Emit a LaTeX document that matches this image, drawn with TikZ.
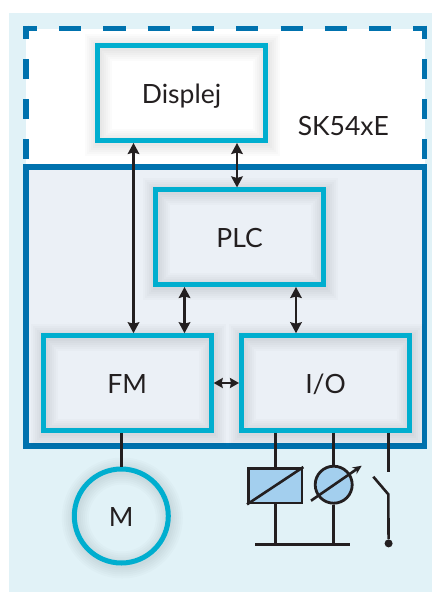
\documentclass[tikz,border=0pt]{standalone}
\usepackage{fontspec}
\setmainfont{Lato}
\usetikzlibrary{arrows.meta,shapes.geometric,positioning}
\definecolor{panelbg}{HTML}{E1F2F7}
\definecolor{boxcyan}{HTML}{00AECF}
\definecolor{unitblue}{HTML}{0072AE}
\definecolor{unitfill}{HTML}{EBF0F6}
\definecolor{symfill}{HTML}{A3CFEE}
\definecolor{inkline}{HTML}{231F20}
\begin{document}
\begin{tikzpicture}[x=1pt,y=-1pt,
    softline/.style={preaction={draw=black,draw opacity=.016,line width=#1,transform canvas={xshift=1pt,yshift=-2pt}}},
    softglow/.style={softline=7pt,softline=11pt,softline=15pt,softline=19pt,softline=23pt,softline=27pt},
    caption/.style={font=\fontsize{26.5}{26.5}\selectfont,text=inkline,text height=20pt,text depth=0pt},
    block/.style={draw=boxcyan,line width=5pt,softglow,minimum width=168pt,minimum height=94.5pt,caption},
    motor/.style={circle,draw=boxcyan,line width=5pt,softglow,minimum size=94pt,inner sep=0pt,caption},
    wire/.style={draw=inkline,line width=2.6pt},
    biarrow/.style={wire,{Stealth[length=11pt,width=11.5pt,inset=1.5pt]}-{Stealth[length=11pt,width=11.5pt,inset=1.5pt]}},
    shortarrow/.style={wire,{Stealth[length=9pt,width=10pt,inset=1pt]}-{Stealth[length=9pt,width=10pt,inset=1pt]}},
    dashtop/.style={draw=unitblue,line width=5.2pt,dash pattern=on 22.2pt off 22.1pt,dash phase=8.7pt},
    dashside/.style={draw=unitblue,line width=5.2pt,dash pattern=on 20pt off 20pt,dash phase=6.5pt}]
    \useasboundingbox (0,0) rectangle (432,592);
    \fill[panelbg] (9,13) rectangle (432,592);
    \fill[white] (26,28.5) rectangle (424.5,167);
    \draw[dashtop] (23.4,28.8) -- (427,28.8);
    \draw[dashside] (26,25.5) -- (26,165);
    \draw[dashside] (424.5,25.5) -- (424.5,165);
    \node (unit) at (225.25,306.5) [draw=unitblue,fill=unitfill,line width=5.2pt,minimum width=398.5pt,minimum height=279pt] {};
    \node[caption] (label) at (343.3,125.7) {SK54xE};

    \node[block] (disp) at (181.5,93.2) {Displej};
    \node[block] (plc) at (239.5,237.2) {PLC};
    \node[block] (fm) at (127.2,383) {FM};
    \node[block] (io) at (325.5,383) {I/O};
    \node[motor] (mot) at (121.3,516) {M};

    \draw[biarrow] (133.5,0 |- disp.south) -- (133.5,0 |- fm.north);
    \draw[biarrow] (237,0 |- disp.south) -- (237,0 |- plc.north);
    \draw[biarrow] (184.5,0 |- plc.south) -- (184.5,0 |- fm.north);
    \draw[biarrow] (296,0 |- plc.south) -- (296,0 |- io.north);
    \draw[shortarrow] (fm.east) -- (io.west);
    \draw[wire] (121.3,0 |- fm.south) -- (mot.north);

    \node (relay) at (275.2,485.7) [rectangle,draw=inkline,fill=symfill,line width=2.8pt,minimum width=53.5pt,minimum height=34.5pt] {};
    \node (lamp) at (333.7,484.7) [circle,draw=inkline,fill=symfill,line width=2.8pt,minimum size=37pt,inner sep=0pt] {};
    \coordinate (groundw) at (255.3,544.3);
    \coordinate (grounde) at (350,544.3);
    \coordinate (dialin) at (311,500.7);
    \coordinate (dialout) at (361.7,465.7);
    \coordinate (swtop) at (388.3,472.3);
    \coordinate (swfree) at (373.3,476.7);
    \coordinate (swpivot) at (388.3,494.3);
    \node (swdot) at (388.6,543.4) [circle,fill=inkline,minimum size=8pt,inner sep=0pt] {};

    \draw[wire] (relay.south west) -- (relay.north east);
    \draw[wire,-{Stealth[length=9pt,width=8pt]}] (dialin) -- (dialout);
    \draw[wire] (relay.north |- io.south) -- (relay.north);
    \draw[wire] (lamp.north |- io.south) -- (lamp.north);
    \draw[wire] (swtop |- io.south) -- (swtop);
    \draw[wire] (relay.south) -- (relay.south |- groundw);
    \draw[wire] (lamp.south) -- (lamp.south |- groundw);
    \draw[wire] (groundw) -- (grounde);
    \draw[wire] (swfree) -- (swpivot) -- (swdot);
\end{tikzpicture}
\end{document}
